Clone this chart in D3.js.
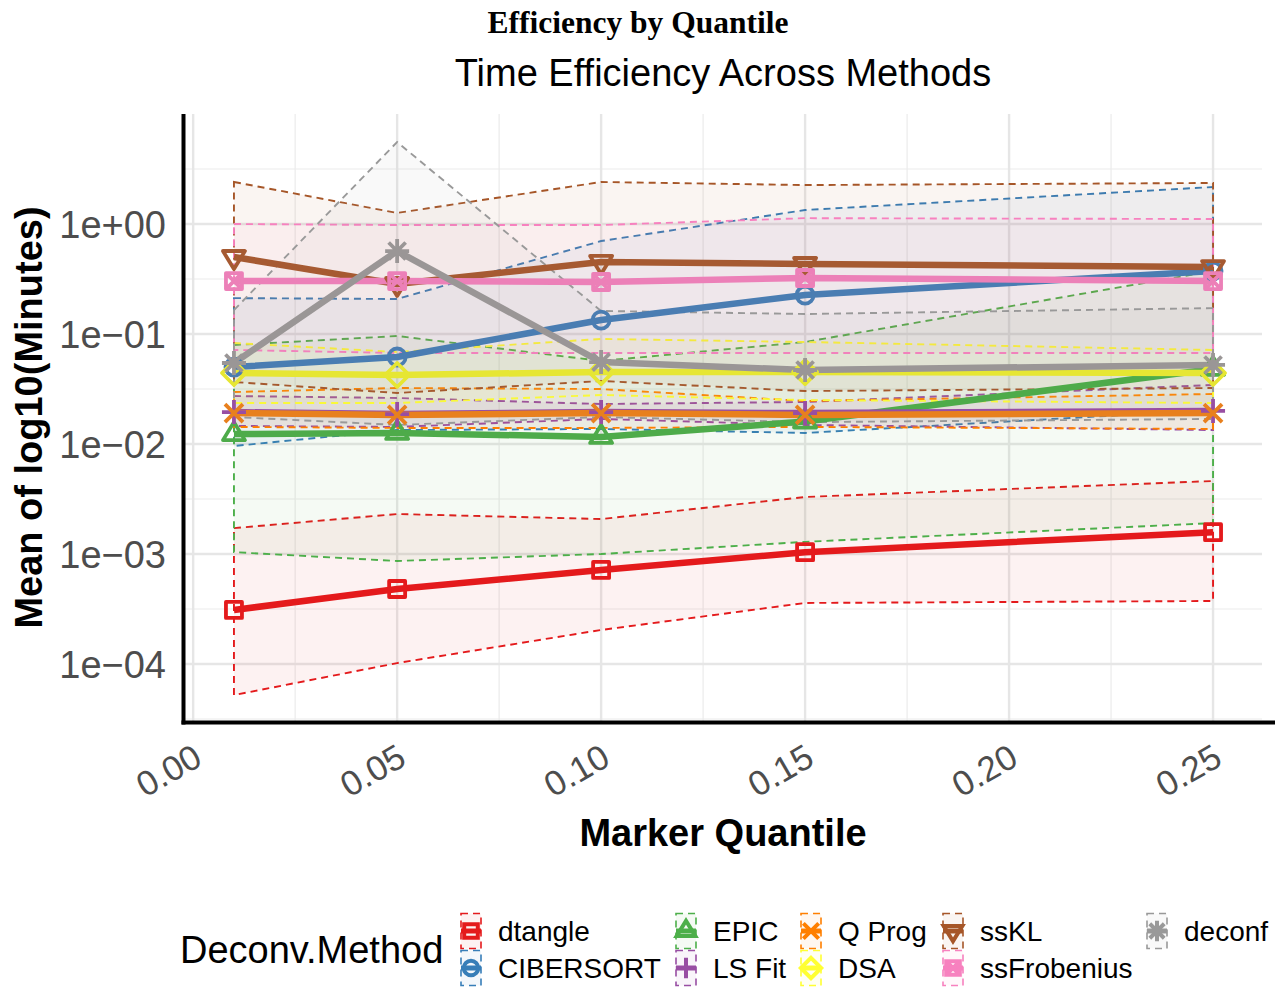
<!DOCTYPE html>
<html>
<head>
<meta charset="utf-8">
<script src="https://cdn.jsdelivr.net/npm/d3@7"></script>
<style>
  html, body { margin: 0; padding: 0; background: #ffffff; }
  svg { display: block; }
  text { font-family: "Liberation Sans", Arial, Helvetica, sans-serif; }
</style>
</head>
<body>
<svg id="chart" width="1275" height="988"></svg>
<script>
// ---- data: mean run time (minutes) and its ribbon bounds per method ----
const quantiles = [0.01, 0.05, 0.10, 0.15, 0.25];
const methods = ["dtangle", "CIBERSORT", "EPIC", "LS Fit", "Q Prog", "DSA", "ssKL", "ssFrobenius", "deconf"];

const dtangleMean = [3.10e-4, 4.81e-4, 7.16e-4, 1.04e-3, 1.58e-3];
const dtangleLo   = [5.22e-5, 1.02e-4, 2.04e-4, 3.59e-4, 3.74e-4];
const dtangleHi   = [1.72e-3, 2.31e-3, 2.08e-3, 3.30e-3, 4.61e-3];

const cibersortMean = [0.0501, 0.0618, 0.134, 0.226, 0.374];
const cibersortLo   = [0.00959, 0.0134, 0.0137, 0.0126, 0.0204];
const cibersortHi   = [0.212, 0.208, 0.700, 1.34, 2.17];

const epicMean = [0.0123, 0.0126, 0.0116, 0.0160, 0.0481];
const epicLo   = [1.04e-3, 8.64e-4, 1.00e-3, 1.29e-3, 1.91e-3];
const epicHi   = [0.0794, 0.0959, 0.0569, 0.0846, 0.374];

const lsfitMean = [0.0195, 0.0187, 0.0195, 0.0191, 0.0200];
const lsfitLo   = [0.0146, 0.0143, 0.0169, 0.0149, 0.0134];
const lsfitHi   = [0.0273, 0.0262, 0.0231, 0.0241, 0.0344];

const qprogMean = [0.0191, 0.0184, 0.0191, 0.0184, 0.0191];
const qprogLo   = [0.0143, 0.0140, 0.0140, 0.0143, 0.0137];
const qprogHi   = [0.0297, 0.0323, 0.0316, 0.0246, 0.0285];

const dsaMean = [0.0442, 0.0424, 0.0451, 0.0451, 0.0442];
const dsaLo   = [0.0236, 0.0236, 0.0279, 0.0251, 0.0236];
const dsaHi   = [0.0828, 0.0686, 0.0901, 0.0846, 0.0716];

const ssklMean = [0.501, 0.285, 0.452, 0.433, 0.406];
const ssklLo   = [0.0366, 0.0291, 0.0374, 0.0303, 0.0323];
const ssklHi   = [2.41, 1.26, 2.41, 2.26, 2.36];

const ssfrobMean = [0.303, 0.303, 0.297, 0.323, 0.303];
const ssfrobLo   = [0.0716, 0.0672, 0.0672, 0.0672, 0.0672];
const ssfrobHi   = [1.00, 0.979, 0.979, 1.13, 1.11];

const deconfMean = [0.0545, 0.568, 0.0556, 0.0471, 0.0523];
const deconfLo   = [0.0176, 0.0149, 0.0176, 0.0158, 0.0169];
const deconfHi   = [0.165, 5.56, 0.162, 0.152, 0.172];

const xTicks = [0.00, 0.05, 0.10, 0.15, 0.20, 0.25];
const xMinor = [0.025, 0.075, 0.125, 0.175, 0.225];
const yTicks = [1e-4, 1e-3, 1e-2, 1e-1, 1];
const yTickLabels = ["1e\u221204", "1e\u221203", "1e\u221202", "1e\u221201", "1e+00"];
const yMinor = [10 ** -4.5, 10 ** -3.5, 10 ** -2.5, 10 ** -1.5, 10 ** -0.5, 10 ** 0.5];

// ---- styling ----
const palette = ["#E41A1C", "#377EB8", "#4DAF4A", "#984EA3", "#FF7F00", "#FFFF33", "#A65628", "#F781BF", "#999999"];
const markColors = ["#E41A1C", "#4A7DB2", "#4EAB4A", "#984EA3", "#E8801E", "#E6E633", "#A65A32", "#EC80B8", "#9A9696"];
const shapes = ["square", "circle", "triangle", "plus", "cross", "diamond", "triangleDown", "squareCross", "asterisk"];

const series = methods.map((m, i) => {
  const mean = [dtangleMean, cibersortMean, epicMean, lsfitMean, qprogMean, dsaMean, ssklMean, ssfrobMean, deconfMean][i];
  const lo = [dtangleLo, cibersortLo, epicLo, lsfitLo, qprogLo, dsaLo, ssklLo, ssfrobLo, deconfLo][i];
  const hi = [dtangleHi, cibersortHi, epicHi, lsfitHi, qprogHi, dsaHi, ssklHi, ssfrobHi, deconfHi][i];
  return {
    name: m, color: palette[i], markColor: markColors[i], shape: shapes[i],
    points: quantiles.map((q, j) => ({ q, mean: mean[j], lo: lo[j], hi: hi[j] }))
  };
});

// marker outlines, centred on (0,0)
function shapePath(shape, k) {
  const s = k || 1;
  const r = 8 * s;
  switch (shape) {
    case "square": return `M${-r},${-r}H${r}V${r}H${-r}Z`;
    case "circle": return d3.arc()({ innerRadius: 0, outerRadius: 8.5 * s, startAngle: 0, endAngle: 2 * Math.PI });
    case "triangle": return `M0,${-12 * s}L${11 * s},${6 * s}L${-11 * s},${6 * s}Z`;
    case "triangleDown": return `M0,${12 * s}L${11 * s},${-6 * s}L${-11 * s},${-6 * s}Z`;
    case "plus": return `M${-12 * s},0H${12 * s}M0,${-12 * s}V${12 * s}`;
    case "cross": return `M${-9 * s},${-9 * s}L${9 * s},${9 * s}M${-9 * s},${9 * s}L${9 * s},${-9 * s}`;
    case "diamond": return `M0,${-12 * s}L${12 * s},0L0,${12 * s}L${-12 * s},0Z`;
    case "squareCross": return `M${-r},${-r}H${r}V${r}H${-r}ZM${-r},${-r}L${r},${r}M${-r},${r}L${r},${-r}`;
    case "asterisk": return `M${-12 * s},0H${12 * s}M0,${-12 * s}V${12 * s}M${-8.5 * s},${-8.5 * s}L${8.5 * s},${8.5 * s}M${-8.5 * s},${8.5 * s}L${8.5 * s},${-8.5 * s}`;
  }
}

// ---- layout ----
const W = 1275, H = 988;
const panel = { left: 184, right: 1262, top: 114, bottom: 721 };
const svg = d3.select("#chart");

const x = d3.scaleLinear().domain([-0.002, 0.262]).range([panel.left + 1, panel.right]);
const y = d3.scaleLog().domain([10 ** -4.518, 10]).range([panel.bottom, panel.top]);

// grid
const grid = svg.append("g");
grid.selectAll("line.ymin").data(yMinor).join("line")
  .attr("x1", panel.left).attr("x2", panel.right).attr("y1", d => y(d)).attr("y2", d => y(d))
  .attr("stroke", "#ebebeb").attr("stroke-width", 1.2);
grid.selectAll("line.xmin").data(xMinor).join("line")
  .attr("y1", panel.top).attr("y2", panel.bottom).attr("x1", d => x(d)).attr("x2", d => x(d))
  .attr("stroke", "#ebebeb").attr("stroke-width", 1.2);
grid.selectAll("line.ymaj").data(yTicks).join("line")
  .attr("x1", panel.left).attr("x2", panel.right).attr("y1", d => y(d)).attr("y2", d => y(d))
  .attr("stroke", "#e6e6e6").attr("stroke-width", 2.4);
grid.selectAll("line.xmaj").data(xTicks).join("line")
  .attr("y1", panel.top).attr("y2", panel.bottom).attr("x1", d => x(d)).attr("x2", d => x(d))
  .attr("stroke", "#e6e6e6").attr("stroke-width", 2.4);

// ribbons (fill + dashed outline all round)
const ribbonPath = pts => {
  const ring = pts.map(p => [x(p.q), y(p.hi)]).concat(pts.slice().reverse().map(p => [x(p.q), y(p.lo)]));
  return d3.line()(ring) + "Z";
};
const ribbons = svg.append("g");
ribbons.selectAll("path").data(series).join("path")
  .attr("d", s => ribbonPath(s.points))
  .attr("fill", s => s.color).attr("fill-opacity", 0.06)
  .attr("stroke", s => s.color).attr("stroke-width", 1.9)
  .attr("stroke-dasharray", "7,5");

// mean lines
const line = d3.line().x(p => x(p.q)).y(p => y(p.mean));
svg.append("g").selectAll("path").data(series).join("path")
  .attr("d", s => line(s.points))
  .attr("fill", "none").attr("stroke", s => s.markColor)
  .attr("stroke-width", 6.5).attr("stroke-linejoin", "round");

// markers
const marks = svg.append("g");
series.forEach(s => {
  marks.selectAll(null).data(s.points).join("path")
    .attr("transform", p => `translate(${x(p.q)},${y(p.mean)})`)
    .attr("d", shapePath(s.shape, 1))
    .attr("fill", "none").attr("stroke", s.markColor).attr("stroke-width", 3.8)
    .attr("stroke-linejoin", "round");
});

// axis lines
svg.append("line").attr("x1", 183.5).attr("x2", 183.5).attr("y1", panel.top).attr("y2", 724.5)
  .attr("stroke", "#000").attr("stroke-width", 4);
svg.append("line").attr("x1", 181.5).attr("x2", W).attr("y1", 722.5).attr("y2", 722.5)
  .attr("stroke", "#000").attr("stroke-width", 4);

// y tick labels
svg.append("g").selectAll("text").data(yTicks).join("text")
  .attr("x", 166).attr("y", d => y(d)).attr("dy", "0.36em")
  .attr("text-anchor", "end").attr("font-size", 38).attr("fill", "#4d4d4d")
  .text((d, i) => yTickLabels[i]);

// x tick labels (rotated)
svg.append("g").selectAll("text").data(xTicks).join("text")
  .attr("transform", d => `translate(${x(d) + 11},764) rotate(-30)`)
  .attr("text-anchor", "end").attr("font-size", 35).attr("fill", "#4d4d4d")
  .text(d => d.toFixed(2));

// titles
svg.append("text").attr("x", 638).attr("y", 33).attr("text-anchor", "middle")
  .style("font-family", "'Liberation Serif', 'Times New Roman', serif")
  .attr("font-weight", "bold").attr("font-size", 31.5).text("Efficiency by Quantile");
svg.append("text").attr("x", (panel.left + panel.right) / 2).attr("y", 86).attr("text-anchor", "middle")
  .attr("font-size", 38).attr("fill", "#000").text("Time Efficiency Across Methods");
svg.append("text").attr("x", (panel.left + panel.right) / 2).attr("y", 846).attr("text-anchor", "middle")
  .attr("font-size", 38).attr("font-weight", "bold").text("Marker Quantile");
svg.append("text").attr("transform", `translate(42,${(panel.top + panel.bottom) / 2}) rotate(-90)`)
  .attr("text-anchor", "middle").attr("font-size", 38).attr("font-weight", "bold")
  .text("Mean of log10(Minutes)");

// legend
const legend = svg.append("g");
legend.append("text").attr("x", 180).attr("y", 963).attr("font-size", 38).text("Deconv.Method");
const colX = [471, 686, 811, 953, 1157];
const rowY = [931, 968];
series.forEach((s, i) => {
  const cx = colX[Math.floor(i / 2)], cy = rowY[i % 2];
  const g = legend.append("g").attr("transform", `translate(${cx},${cy})`);
  g.append("rect").attr("x", -10).attr("y", -17.5).attr("width", 20).attr("height", 35)
    .attr("fill", s.color).attr("fill-opacity", 0.06)
    .attr("stroke", s.color).attr("stroke-width", 1.6).attr("stroke-dasharray", "7,5");
  g.append("line").attr("x1", -10).attr("x2", 10).attr("y1", 0).attr("y2", 0)
    .attr("stroke", s.color).attr("stroke-width", 5);
  g.append("path").attr("d", shapePath(s.shape, 0.85))
    .attr("fill", "none").attr("stroke", s.color).attr("stroke-width", 4);
  g.append("text").attr("x", 27).attr("y", 0).attr("dy", "0.36em")
    .attr("font-size", 28).text(s.name);
});
</script>
</body>
</html>
